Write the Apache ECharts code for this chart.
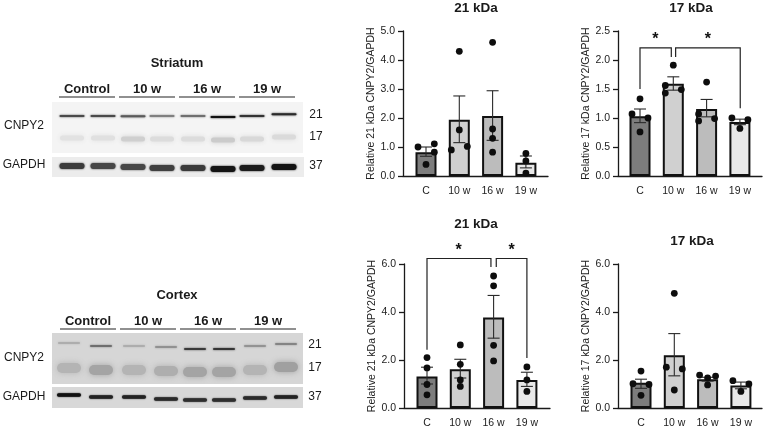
<!DOCTYPE html>
<html><head><meta charset="utf-8">
<style>html,body{margin:0;padding:0;background:#fff}#c{width:767px;height:429px;filter:blur(0.3px)}</style>
<script src="https://cdn.jsdelivr.net/npm/echarts@6/dist/echarts.min.js"></script>
</head><body><div id="c"></div>
<script>
const categories = ['C','10 w','16 w','19 w'];
const barColors = ['#7d7d7d','#d0d0d0','#bcbcbc','#e8e8e8'];

const stMean21 = [0.82,1.94,2.07,0.46];
const stUpper21 = [1.0,2.76,2.94,0.69];
const stLower21 = [0.68,1.15,1.23,0.28];
const stPoints21 = [[-0.24,1.0],[0.25,1.11],[0.25,0.82],[0,0.40],[1,4.3],[1,1.59],[0.76,0.9],[1.24,1.02],[2,4.61],[2,1.62],[2,1.3],[2,0.82],[3,0.78],[3,0.52],[3,0.1]];

const stMean17 = [1.03,1.59,1.155,0.93];
const stUpper17 = [1.155,1.71,1.32,0.98];
const stLower17 = [0.92,1.48,1.02,0.885];
const stPoints17 = [[0,1.33],[-0.24,1.07],[0.24,1.0],[0,0.76],[1,1.91],[0.76,1.56],[1.24,1.49],[0.76,1.43],[2,1.62],[1.76,1.07],[1.76,0.95],[2.24,0.99],[2.76,1.0],[3.24,0.97],[3,0.82]];

const coMean21 = [1.31,1.61,3.77,1.17];
const coUpper21 = [1.7,2.03,4.69,1.49];
const coLower21 = [1.0,1.25,2.91,0.9];
const coPoints21 = [[0,2.1],[0,1.67],[0,0.98],[0,0.55],[1,2.63],[1,1.82],[1,1.17],[1,0.9],[2,5.5],[2,5.09],[2,2.61],[2,1.96],[3,1.71],[3,1.17],[3,0.69]];

const coMean17 = [1.05,2.2,1.2,0.94];
const coUpper17 = [1.2,3.1,1.28,1.08];
const coLower17 = [0.82,1.34,1.12,0.8];
const coPoints17 = [[0,1.54],[-0.24,1.01],[0.24,0.98],[0,0.53],[1,4.78],[0.76,1.7],[1.24,1.63],[1,0.75],[1.76,1.37],[2.24,1.33],[2,1.25],[2,0.96],[2.76,1.14],[3.24,1.0],[3,0.69]];

const stBrackets = [[[0,1.5],[0,2.21],[0.94,2.21],[0.94,2.05]],[[1.07,2.05],[1.07,2.21],[3.01,2.21],[3.01,1.17]]];
const stStars = [[0.46,2.38],[2.04,2.38]];
const coBrackets = [[[0,2.43],[0,6.23],[1.92,6.23],[1.92,5.88]],[[2.08,5.88],[2.08,6.23],[3,6.23],[3,2.08]]];
const coStars = [[0.95,6.63],[2.54,6.63]];

const panels = [
 {title:'21 kDa',tx:476,ty:1,name:'Relative 21 kDa CNPY2/GAPDH',left:403,right:548,top:31,bottom:176,c0:426,ymax:5,yint:1,mean:stMean21,up:stUpper21,lo:stLower21,pts:stPoints21,br:[],st:[]},
 {title:'17 kDa',tx:691,ty:1,name:'Relative 17 kDa CNPY2/GAPDH',left:618,right:762,top:31,bottom:176,c0:640,ymax:2.5,yint:0.5,mean:stMean17,up:stUpper17,lo:stLower17,pts:stPoints17,br:stBrackets,st:stStars},
 {title:'21 kDa',tx:476,ty:217,name:'Relative 21 kDa CNPY2/GAPDH',left:404,right:550,top:264,bottom:409,c0:427,ymax:6,yint:2,mean:coMean21,up:coUpper21,lo:coLower21,pts:coPoints21,br:coBrackets,st:coStars},
 {title:'17 kDa',tx:692,ty:234,name:'Relative 17 kDa CNPY2/GAPDH',left:618,right:762,top:264,bottom:408,c0:641,ymax:6,yint:2,mean:coMean17,up:coUpper17,lo:coLower17,pts:coPoints17,br:[],st:[]}
];
const FONT='"Liberation Sans",Arial,sans-serif', INK='#1a1a1a', UNIT=33.3;

const grid=[],xAxis=[],yAxis=[],series=[],title=[];
panels.forEach((p,i)=>{
 grid.push({left:p.left,top:p.top,width:p.right-p.left,height:p.bottom-p.top});
 title.push({text:p.title,left:p.tx,top:p.ty,padding:0,textAlign:'center',
   textStyle:{fontFamily:FONT,fontSize:13.5,fontWeight:'bold',color:INK}});
 xAxis.push({type:'value',gridIndex:i,min:(p.left-p.c0)/UNIT,max:(p.right-p.c0)/UNIT,splitLine:{show:false},
   axisLine:{onZero:false,lineStyle:{color:INK,width:1.3}},axisTick:{show:false},
   axisLabel:{customValues:[0,1,2,3],formatter:v=>categories[Math.round(v)],fontFamily:FONT,fontSize:10.5,color:'#222',margin:10,showMinLabel:true,showMaxLabel:true}});
 yAxis.push({type:'value',gridIndex:i,min:0,max:p.ymax,interval:p.yint,splitLine:{show:false},
   name:p.name,nameLocation:'middle',nameGap:26,nameRotate:90,nameTextStyle:{fontFamily:FONT,fontSize:10.5,color:'#222'},
   axisLine:{show:true,onZero:false,lineStyle:{color:INK,width:1.3}},axisTick:{show:true,length:5,lineStyle:{color:INK,width:1.3}},
   axisLabel:{formatter:v=>v.toFixed(1),fontFamily:FONT,fontSize:10.5,color:'#222',margin:8}});
 series.push({type:'bar',xAxisIndex:i,yAxisIndex:i,barWidth:21,
   data:p.mean.map((v,k)=>({value:[k,v],itemStyle:{color:barColors[k]}})),
   itemStyle:{borderColor:'#111',borderWidth:2},z:2,silent:true});
 series.push({type:'custom',xAxisIndex:i,yAxisIndex:i,z:3,silent:true,
   data:p.mean.map((v,k)=>[k,p.up[k],p.lo[k]]),encode:{x:0,y:[1,2]},
   renderItem:(ctx,api)=>{
     const t=api.coord([api.value(0),api.value(1)]),b=api.coord([api.value(0),api.value(2)]),w=6;
     const st={stroke:'#2a2a2a',lineWidth:1.1,fill:null};
     return {type:'group',children:[
       {type:'line',shape:{x1:t[0],y1:t[1],x2:b[0],y2:b[1]},style:st},
       {type:'line',shape:{x1:t[0]-w,y1:t[1],x2:t[0]+w,y2:t[1]},style:st},
       {type:'line',shape:{x1:b[0]-w,y1:b[1],x2:b[0]+w,y2:b[1]},style:st}]};
   }});
 series.push({type:'scatter',xAxisIndex:i,yAxisIndex:i,z:4,silent:true,symbolSize:6.8,
   data:p.pts,itemStyle:{color:'#0d0d0d',opacity:1}});
 if(p.br.length){
  series.push({type:'custom',xAxisIndex:i,yAxisIndex:i,z:5,silent:true,clip:false,
   data:p.br.map((b,k)=>[k,b[1][1]]),encode:{x:0,y:1},
   renderItem:(ctx,api)=>({type:'polyline',shape:{points:p.br[ctx.dataIndex].map(q=>api.coord(q))},
      style:{stroke:'#222',lineWidth:1.2,fill:null}})});
  series.push({type:'custom',xAxisIndex:i,yAxisIndex:i,z:5,silent:true,clip:false,
   data:p.st,encode:{x:0,y:1},
   renderItem:(ctx,api)=>{const c=api.coord([api.value(0),api.value(1)]);
     return {type:'text',style:{text:'*',x:c[0],y:c[1]+2,align:'center',verticalAlign:'middle',
       font:'bold 16px '+FONT,fill:'#111'}};}});
 }
});

// ---- western blot panels ----
const stX=[72,103,133,162,193,223,252,284];
const stTopY=[116,116,116.3,116,116,117,116,114.3];
const stTopInk=['#4a4a4a','#4a4a4a','#5a5a5a','#808080','#6f6f6f','#111','#333','#2a2a2a'];
const stMidY=[138,138,139,139,139,140,139,137];
const stMidInk=['#e2e2e2','#e0e0e0','#cfcfcf','#dcdcdc','#dcdcdc','#cbcbcb','#d8d8d8','#dadada'];
const stGapY=[166,166,167,168,168,169,168,167];
const stGapInk=['#3c3c3c','#484848','#484848','#404040','#3a3a3a','#141414','#1c1c1c','#141414'];
const coX=[69,101,134,166,195,224,255,286];
const coTopY=[343,346,346,347,349,349,346,344];
const coTopInk=['#a8a8a8','#606060','#a8a8a8','#888','#262626','#202020','#8a8a8a','#7a7a7a'];
const coMidY=[368,370,370,371,372,372,370,367];
const coMidInk=['#b4b4b4','#a4a4a4','#b4b4b4','#aeaeae','#a4a4a4','#a4a4a4','#b4b4b4','#a0a0a0'];
const coGapY=[395,397,397,399,400,400,398,397];
const coGapInk=['#111','#222','#222','#2a2a2a','#2e2e2e','#2e2e2e','#2a2a2a','#222'];

const g=[];
const rect=(x,y,w,h,c)=>g.push({type:'rect',shape:{x,y,width:w,height:h},style:{fill:c},z:1});
const band=(x,y,w,h,c,blur)=>g.push({type:'rect',shape:{x:x-w/2,y:y-h/2,width:w,height:h,r:h/2},
  style:{fill:c,shadowBlur:blur,shadowColor:c},z:2});
const txt=(t,x,y,o={})=>g.push({type:'text',z:4,style:{text:t,x,y,align:'center',verticalAlign:'middle',
  font:(o.bold?'bold ':'')+(o.size||12)+'px '+FONT,fill:'#1a1a1a'}});

rect(52,102,251,51,'#f4f4f4'); rect(52,157,252,20,'#ececec');
rect(52,333,251,51,'#d6d6d6'); rect(52,387,251,21,'#d8d8d8');
stX.forEach((x,i)=>{
  band(x,stTopY[i],25,2,stTopInk[i],2);
  band(x,stMidY[i],24,5,stMidInk[i],5);
  band(x,stGapY[i],25,6,stGapInk[i],2);
});
coX.forEach((x,i)=>{
  band(x,coTopY[i],22,1.6,coTopInk[i],2);
  band(x,coMidY[i],24,10,coMidInk[i],6);
  band(x,coGapY[i],24,3.5,coGapInk[i],1.5);
});
const groups=['Control','10 w','16 w','19 w'];
[[89,97,59],[321,329,60]].forEach(([ty,ly,x0])=>{
  groups.forEach((t,i)=>{
    txt(t,x0+28+i*60,ty,{bold:true,size:13});
    g.push({type:'line',z:4,shape:{x1:x0+i*60,y1:ly,x2:x0+56+i*60,y2:ly},style:{stroke:'#222',lineWidth:1.2}});
  });
});
txt('Striatum',177,63,{bold:true,size:13});
txt('Cortex',177,295,{bold:true,size:13});
txt('CNPY2',24,126);txt('GAPDH',24,165);
txt('21',316,115);txt('17',316,137);txt('37',316,166);
txt('CNPY2',24,358);txt('GAPDH',24,397);
txt('21',315,345);txt('17',315,368);txt('37',315,397);

const chart=echarts.init(document.getElementById('c'),null,{renderer:'canvas'});
chart.setOption({animation:false,backgroundColor:'#fff',title,grid,xAxis,yAxis,series,graphic:{elements:g}});
</script></body></html>
